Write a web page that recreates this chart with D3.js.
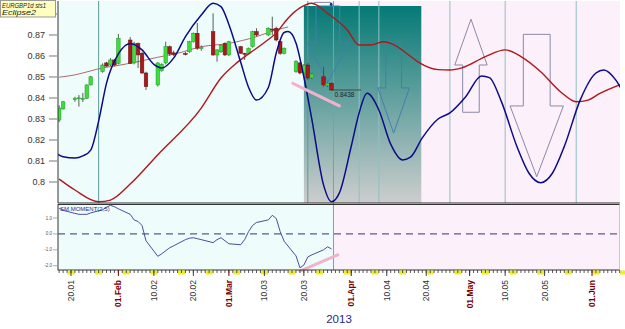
<!DOCTYPE html>
<html>
<head>
<meta charset="utf-8">
<script src="https://cdn.jsdelivr.net/npm/d3@7"></script>
<style>
  body { margin: 0; background: #fff; }
  svg { display: block; font-family: Arial, "Liberation Sans", sans-serif; }
</style>
</head>
<body>
<svg id="chart"></svg>
<script>
// daily candles: date, open, high, low, close
const candles = [
  ["2013-01-17", 0.8295, 0.8365, 0.8285, 0.8352],
  ["2013-01-18", 0.8348, 0.8386, 0.8345, 0.8382],
  ["2013-01-21", 0.8392, 0.8406, 0.8382, 0.8399],
  ["2013-01-22", 0.8398, 0.8414, 0.8359, 0.8401],
  ["2013-01-23", 0.8395, 0.8424, 0.8381, 0.8398],
  ["2013-01-24", 0.8399, 0.8465, 0.8395, 0.8462],
  ["2013-01-25", 0.8462, 0.8505, 0.8460, 0.8501],
  ["2013-01-28", 0.8525, 0.8565, 0.8520, 0.8557],
  ["2013-01-29", 0.8567, 0.8572, 0.8548, 0.8552],
  ["2013-01-30", 0.8557, 0.8590, 0.8552, 0.8581],
  ["2013-01-31", 0.8581, 0.8585, 0.8550, 0.8557],
  ["2013-02-01", 0.8565, 0.8705, 0.8560, 0.8684],
  ["2013-02-04", 0.8676, 0.8690, 0.8562, 0.8565],
  ["2013-02-05", 0.8567, 0.8668, 0.8560, 0.8660],
  ["2013-02-06", 0.8660, 0.8664, 0.8543, 0.8605],
  ["2013-02-07", 0.8613, 0.8620, 0.8515, 0.8519],
  ["2013-02-08", 0.8519, 0.8525, 0.8438, 0.8454],
  ["2013-02-11", 0.8462, 0.8570, 0.8455, 0.8567],
  ["2013-02-12", 0.8530, 0.8565, 0.8525, 0.8560],
  ["2013-02-13", 0.8567, 0.8668, 0.8560, 0.8644],
  ["2013-02-14", 0.8644, 0.8650, 0.8600, 0.8610],
  ["2013-02-15", 0.8615, 0.8625, 0.8600, 0.8608],
  ["2013-02-18", 0.8612, 0.8620, 0.8603, 0.8608],
  ["2013-02-19", 0.8620, 0.8672, 0.8615, 0.8668],
  ["2013-02-20", 0.8668, 0.8712, 0.8664, 0.8708],
  ["2013-02-21", 0.8708, 0.8757, 0.8629, 0.8637],
  ["2013-02-22", 0.8635, 0.8650, 0.8625, 0.8642],
  ["2013-02-25", 0.8716, 0.8803, 0.8600, 0.8605],
  ["2013-02-26", 0.8605, 0.8632, 0.8573, 0.8629],
  ["2013-02-27", 0.8620, 0.8655, 0.8615, 0.8652],
  ["2013-02-28", 0.8660, 0.8665, 0.8600, 0.8605],
  ["2013-03-01", 0.8605, 0.8672, 0.8600, 0.8668],
  ["2013-03-04", 0.8644, 0.8648, 0.8610, 0.8613],
  ["2013-03-05", 0.8613, 0.8615, 0.8581, 0.8608],
  ["2013-03-06", 0.8613, 0.8640, 0.8608, 0.8637],
  ["2013-03-07", 0.8644, 0.8720, 0.8640, 0.8716],
  ["2013-03-08", 0.8716, 0.8732, 0.8692, 0.8700],
  ["2013-03-11", 0.8700, 0.8736, 0.8695, 0.8732],
  ["2013-03-12", 0.8728, 0.8787, 0.8700, 0.8724],
  ["2013-03-13", 0.8732, 0.8740, 0.8670, 0.8676],
  ["2013-03-14", 0.8668, 0.8672, 0.8605, 0.8613],
  ["2013-03-15", 0.8613, 0.8640, 0.8608, 0.8637],
  ["2013-03-18", 0.8525, 0.8580, 0.8520, 0.8573],
  ["2013-03-19", 0.8567, 0.8572, 0.8512, 0.8519],
  ["2013-03-20", 0.8519, 0.8562, 0.8515, 0.8557],
  ["2013-03-21", 0.8557, 0.8567, 0.8486, 0.8495],
  ["2013-03-22", 0.8495, 0.8518, 0.8490, 0.8514],
  ["2013-03-25", 0.8501, 0.8549, 0.8454, 0.8462],
  ["2013-03-26", 0.8458, 0.8474, 0.8452, 0.8470],
  ["2013-03-27", 0.8470, 0.8474, 0.8436, 0.8438]
];

// thin moving average over the candles
const maLine = [
  ["2013-01-17", 0.8499], ["2013-01-21", 0.8510], ["2013-01-25", 0.8529],
  ["2013-01-28", 0.8543], ["2013-01-31", 0.8552], ["2013-02-03", 0.8562],
  ["2013-02-06", 0.8573], ["2013-02-11", 0.8594], ["2013-02-16", 0.8613],
  ["2013-02-22", 0.8644], ["2013-03-01", 0.8660], ["2013-03-08", 0.8692],
  ["2013-03-13", 0.8724], ["2013-03-16", 0.8738]
];

// eclipse projection curves
const blueCurve = [
  ["2013-01-16", 0.8140], ["2013-01-18", 0.8120], ["2013-01-21", 0.8114],
  ["2013-01-23", 0.8124], ["2013-01-25", 0.8152], ["2013-01-27", 0.8290],
  ["2013-01-29", 0.8471], ["2013-02-01", 0.8610], ["2013-02-04", 0.8660],
  ["2013-02-07", 0.8629], ["2013-02-10", 0.8560], ["2013-02-12", 0.8543],
  ["2013-02-15", 0.8590], ["2013-02-18", 0.8692], ["2013-02-22", 0.8795],
  ["2013-02-25", 0.8851], ["2013-02-27", 0.8835], ["2013-03-01", 0.8750],
  ["2013-03-04", 0.8570], ["2013-03-06", 0.8450], ["2013-03-08", 0.8390],
  ["2013-03-11", 0.8450], ["2013-03-13", 0.8614], ["2013-03-15", 0.8712],
  ["2013-03-16", 0.8716], ["2013-03-18", 0.8662], ["2013-03-20", 0.8500],
  ["2013-03-22", 0.8300], ["2013-03-25", 0.7985], ["2013-03-27", 0.7906],
  ["2013-03-29", 0.7948], ["2013-04-01", 0.8170], ["2013-04-03", 0.8329],
  ["2013-04-05", 0.8422], ["2013-04-08", 0.8343], ["2013-04-11", 0.8180],
  ["2013-04-14", 0.8105], ["2013-04-16", 0.8118], ["2013-04-19", 0.8210],
  ["2013-04-23", 0.8300], ["2013-04-26", 0.8329], ["2013-04-30", 0.8406],
  ["2013-05-04", 0.8505], ["2013-05-06", 0.8497], ["2013-05-09", 0.8385],
  ["2013-05-13", 0.8168], ["2013-05-16", 0.8043], ["2013-05-19", 0.7997],
  ["2013-05-22", 0.8043], ["2013-05-25", 0.8170], ["2013-05-29", 0.8390],
  ["2013-06-02", 0.8519], ["2013-06-04", 0.8533], ["2013-06-07", 0.8486],
  ["2013-06-09", 0.8424]
];

const redCurve = [
  ["2013-01-17", 0.8014], ["2013-01-21", 0.7962], ["2013-01-27", 0.7906],
  ["2013-01-30", 0.7914], ["2013-02-04", 0.7990], ["2013-02-11", 0.8130],
  ["2013-02-22", 0.8352], ["2013-02-27", 0.8495], ["2013-03-03", 0.8567],
  ["2013-03-06", 0.8610], ["2013-03-10", 0.8664], ["2013-03-13", 0.8710],
  ["2013-03-16", 0.8780], ["2013-03-19", 0.8829], ["2013-03-22", 0.8851],
  ["2013-03-26", 0.8803], ["2013-03-31", 0.8724], ["2013-04-03", 0.8652],
  ["2013-04-06", 0.8652], ["2013-04-09", 0.8668], ["2013-04-12", 0.8652],
  ["2013-04-15", 0.8613], ["2013-04-18", 0.8571], ["2013-04-23", 0.8535],
  ["2013-04-26", 0.8533], ["2013-04-29", 0.8543], ["2013-05-05", 0.8597],
  ["2013-05-10", 0.8629], ["2013-05-14", 0.8597], ["2013-05-19", 0.8525],
  ["2013-05-24", 0.8430], ["2013-05-28", 0.8382], ["2013-05-31", 0.8390],
  ["2013-06-03", 0.8422], ["2013-06-09", 0.8470]
];

// momentum indicator per trading day
const momentum = [
  ["2013-01-17", 1.61], ["2013-01-18", 1.48], ["2013-01-21", 1.29], ["2013-01-22", 1.23],
  ["2013-01-23", 1.23], ["2013-01-24", 1.23], ["2013-01-25", 1.32], ["2013-01-28", 1.52],
  ["2013-01-29", 1.68], ["2013-01-30", 1.80], ["2013-01-31", 1.71], ["2013-02-01", 1.58],
  ["2013-02-04", 1.23], ["2013-02-05", 0.88], ["2013-02-06", 0.78], ["2013-02-07", 0.53],
  ["2013-02-08", -0.43], ["2013-02-11", -1.41], ["2013-02-12", -1.25], ["2013-02-13", -1.06],
  ["2013-02-14", -0.87], ["2013-02-15", -0.75], ["2013-02-18", -0.36], ["2013-02-19", -0.27],
  ["2013-02-20", -0.24], ["2013-02-21", -0.30], ["2013-02-22", -0.36], ["2013-02-25", -0.55],
  ["2013-02-26", -0.36], ["2013-02-27", -0.24], ["2013-02-28", -0.43], ["2013-03-01", -0.62],
  ["2013-03-04", -0.68], ["2013-03-05", -0.36], ["2013-03-06", 0.15], ["2013-03-07", 0.53],
  ["2013-03-08", 0.72], ["2013-03-11", 0.88], ["2013-03-12", 1.17], ["2013-03-13", 0.97],
  ["2013-03-14", 0.15], ["2013-03-15", -0.46], ["2013-03-18", -1.38], ["2013-03-19", -2.13],
  ["2013-03-20", -1.96], ["2013-03-21", -1.45], ["2013-03-22", -1.32], ["2013-03-25", -1.00],
  ["2013-03-26", -0.81], ["2013-03-27", -0.94]
];

// arrows: centre date, tail value, head base value, tip value, shaft half-width (days), head half-width (days)
const arrows = [
  ["2013-03-26T02:00", 0.8838, 0.8662, 0.8476, 3.0, 5.3],
  ["2013-04-11T18:00", 0.8667, 0.8448, 0.8233, 2.0, 4.0],
  ["2013-05-01T08:00", 0.8332, 0.8557, 0.8775, 2.1, 4.1],
  ["2013-05-18", 0.8703, 0.8362, 0.8025, 3.4, 6.75]
];

const timeLines = ["2013-01-27", "2013-03-21", "2013-04-03", "2013-04-08", "2013-04-26", "2013-05-10", "2013-05-28"];
const splitDate = "2013-03-27T12:00";
const tealZone = ["2013-03-20", "2013-04-18T18:00", 0.8838];
const topBracket = ["2013-03-22T14:00", "2013-03-26T22:00"];
const priceTrend = [["2013-03-17T05:00", 0.8470], ["2013-03-29", 0.8362]];
const momTrend = [["2013-03-19", -2.34], ["2013-03-28T14:00", -1.32]];
const lastPrice = ["2013-03-27", "2013-04-03T12:00", 0.8438];

const priceTicks = [0.80, 0.81, 0.82, 0.83, 0.84, 0.85, 0.86, 0.87, 0.88];
const priceLabels = [0.80, 0.81, 0.82, 0.83, 0.84, 0.85, 0.86, 0.87];
const momTicks = [1, 0, -1, -2];
const dateTicks = ["2013-01-20", "2013-02-01", "2013-02-10", "2013-02-20", "2013-03-01", "2013-03-10", "2013-03-20",
  "2013-04-01", "2013-04-10", "2013-04-20", "2013-05-01", "2013-05-10", "2013-05-20", "2013-06-01"];
const dateLabels = ["20.01", "01.Feb", "10.02", "20.02", "01.Mar", "10.03", "20.03",
  "01.Apr", "10.04", "20.04", "01.May", "10.05", "20.05", "01.Jun"];

const width = 625, height = 329;
const left = 58, right = 620;
const mainTop = 1, mainBottom = 203;
const momTop = 204.5, momBottom = 270;

const dt = s => new Date(s.length > 10 ? s + "Z" : s + "T00:00:00Z");

const svg = d3.select("#chart").attr("width", width).attr("height", height);

const x = d3.scaleUtc()
  .domain([dt("2013-01-20"), dt("2013-06-01")])
  .range([71, 592]);
const y = d3.scaleLinear().domain([0.79, 0.8857]).range([mainBottom, 2]);
const ym = d3.scaleLinear().domain([-2.27, 1.85]).range([momBottom, momTop]);

const defs = svg.append("defs");
defs.append("clipPath").attr("id", "clipMain")
  .append("rect").attr("x", left).attr("y", mainTop).attr("width", right - left).attr("height", mainBottom - mainTop);
defs.append("clipPath").attr("id", "clipMom")
  .append("rect").attr("x", left).attr("y", momTop).attr("width", right - left).attr("height", momBottom - momTop);
const grad = defs.append("linearGradient").attr("id", "tealGrad")
  .attr("x1", 0).attr("y1", 0).attr("x2", 0).attr("y2", 1);
grad.append("stop").attr("offset", "0%").attr("stop-color", "#057a76");
grad.append("stop").attr("offset", "100%").attr("stop-color", "#cdcdcd");

const xSplit = x(dt(splitDate));

// backgrounds
[[mainTop, mainBottom], [momTop, momBottom]].forEach(([t, b]) => {
  svg.append("rect").attr("x", left).attr("y", t).attr("width", xSplit - left).attr("height", b - t).attr("fill", "#eefcfc");
  svg.append("rect").attr("x", xSplit).attr("y", t).attr("width", right - xSplit).attr("height", b - t).attr("fill", "#fcf0fa");
});

// teal zone
svg.append("rect")
  .attr("x", x(dt(tealZone[0])))
  .attr("y", y(tealZone[2]))
  .attr("width", x(dt(tealZone[1])) - x(dt(tealZone[0])))
  .attr("height", mainBottom - y(tealZone[2]))
  .attr("fill", "url(#tealGrad)");

// time lines
svg.append("g").selectAll("line").data(timeLines).join("line")
  .attr("x1", d => x(dt(d))).attr("x2", d => x(dt(d)))
  .attr("y1", mainTop).attr("y2", mainBottom)
  .attr("stroke", d => dt(d) < dt(splitDate) ? "#5d9a9a" : "#8fc0c0")
  .attr("stroke-width", 1);
svg.append("line")
  .attr("x1", xSplit).attr("x2", xSplit).attr("y1", mainTop).attr("y2", momBottom)
  .attr("stroke", "#6aa8a8").attr("stroke-width", 1);

// arrows
const arrowPath = ([c, tail, base, tip, sw, hw]) => {
  const cx = x(dt(c));
  const day = x(dt("2013-01-21")) - x(dt("2013-01-20"));
  const s = sw * day, h = hw * day;
  return `M${cx - s},${y(tail)}L${cx + s},${y(tail)}L${cx + s},${y(base)}L${cx + h},${y(base)}` +
    `L${cx},${y(tip)}L${cx - h},${y(base)}L${cx - s},${y(base)}Z`;
};
svg.append("g").selectAll("path").data(arrows).join("path")
  .attr("d", arrowPath)
  .attr("fill", "none")
  .attr("stroke", d => dt(d[0]) < dt(tealZone[1]) ? "#3f80ad" : "#8a8aa6")
  .attr("stroke-width", 1);

// small bracket at top of the teal zone
svg.append("path")
  .attr("d", `M${x(dt(topBracket[0]))},${y(0.8843)}V${y(0.8855)}H${x(dt(topBracket[1]))}V${y(0.8843)}`)
  .attr("fill", "none").attr("stroke", "#8a8a9a").attr("stroke-width", 1);
svg.append("circle")
  .attr("cx", x(dt(topBracket[1]))).attr("cy", y(0.8845)).attr("r", 1.4).attr("fill", "#1a2a80");

const mainG = svg.append("g").attr("clip-path", "url(#clipMain)");

const line = d3.line()
  .x(d => x(dt(d[0])))
  .y(d => y(d[1]))
  .curve(d3.curveMonotoneX);

mainG.append("path").datum(maLine).attr("d", line)
  .attr("fill", "none").attr("stroke", "#a85a5a").attr("stroke-width", 0.9);

// candles
const candleG = mainG.append("g");
candleG.selectAll("line").data(candles).join("line")
  .attr("x1", d => x(dt(d[0]))).attr("x2", d => x(dt(d[0])))
  .attr("y1", d => y(d[2])).attr("y2", d => y(d[3]))
  .attr("stroke", "#4a4a4a").attr("stroke-width", 0.9);
candleG.selectAll("rect").data(candles).join("rect")
  .attr("x", d => x(dt(d[0])) - 1.8)
  .attr("width", 3.6)
  .attr("y", d => y(Math.max(d[1], d[4])))
  .attr("height", d => Math.max(1, Math.abs(y(d[1]) - y(d[4]))))
  .attr("fill", d => d[4] >= d[1] ? "#3fdc3f" : "#a8191b")
  .attr("stroke", d => d[4] >= d[1] ? "#239a23" : "#6a0f10")
  .attr("stroke-width", 0.5);

mainG.append("path").datum(redCurve).attr("d", line)
  .attr("fill", "none").attr("stroke", "#b0161a").attr("stroke-width", 1.4);
mainG.append("path").datum(blueCurve).attr("d", line)
  .attr("fill", "none").attr("stroke", "#0c0c86").attr("stroke-width", 1.5);

// last price marker
svg.append("line")
  .attr("x1", x(dt(lastPrice[0]))).attr("x2", x(dt(lastPrice[1])))
  .attr("y1", y(lastPrice[2])).attr("y2", y(lastPrice[2]))
  .attr("stroke", "#333").attr("stroke-width", 0.8);
svg.append("text")
  .attr("x", x(dt(lastPrice[0])) + 3).attr("y", y(lastPrice[2]) + 7)
  .attr("font-size", 6.5).attr("fill", "#222")
  .text(lastPrice[2].toFixed(4));

// price trend line
svg.append("line")
  .attr("x1", x(dt(priceTrend[0][0]))).attr("y1", y(priceTrend[0][1]))
  .attr("x2", x(dt(priceTrend[1][0]))).attr("y2", y(priceTrend[1][1]))
  .attr("stroke", "#f2b2cc").attr("stroke-width", 3).attr("stroke-linecap", "round");

// main frame
svg.append("path")
  .attr("d", `M${left},${mainTop}V${mainBottom}H${right}`)
  .attr("fill", "none").attr("stroke", "#333").attr("stroke-width", 1);

// price axis
const pAxis = svg.append("g");
pAxis.selectAll("line").data(priceTicks).join("line")
  .attr("x1", 49).attr("x2", 57).attr("y1", d => y(d)).attr("y2", d => y(d))
  .attr("stroke", "#aaa").attr("stroke-width", 1.6);
pAxis.selectAll("text").data(priceLabels).join("text")
  .attr("x", 45).attr("y", d => y(d)).attr("dy", "0.35em")
  .attr("text-anchor", "end").attr("font-size", 9).attr("fill", "#333")
  .text(d => String(+d.toFixed(2)));

// momentum panel
const momG = svg.append("g").attr("clip-path", "url(#clipMom)");
momG.append("line")
  .attr("x1", left).attr("x2", right).attr("y1", ym(0)).attr("y2", ym(0))
  .attr("stroke", "#34346e").attr("stroke-width", 1).attr("stroke-dasharray", "7,5");
momG.append("path").datum(momentum)
  .attr("d", d3.line().x(d => x(dt(d[0]))).y(d => ym(d[1])))
  .attr("fill", "none").attr("stroke", "#3a3a8c").attr("stroke-width", 0.9);
svg.append("text")
  .attr("x", 60).attr("y", momTop + 6.5)
  .attr("font-size", 6).attr("fill", "#2a2a90")
  .text("SM.MOMENT(2,5)");

svg.append("line")
  .attr("x1", x(dt(momTrend[0][0]))).attr("y1", ym(momTrend[0][1]))
  .attr("x2", x(dt(momTrend[1][0]))).attr("y2", ym(momTrend[1][1]))
  .attr("stroke", "#f2b2cc").attr("stroke-width", 3).attr("stroke-linecap", "round");

svg.append("rect")
  .attr("x", left).attr("y", momTop).attr("width", right - left).attr("height", momBottom - momTop)
  .attr("fill", "none").attr("stroke", "#333").attr("stroke-width", 1);
svg.append("rect")
  .attr("x", right - 0.5).attr("y", momTop - 1).attr("width", 6).attr("height", momBottom - momTop + 2)
  .attr("fill", "#fff");

const mAxis = svg.append("g");
mAxis.selectAll("line").data(momTicks).join("line")
  .attr("x1", 53).attr("x2", 57).attr("y1", d => ym(d)).attr("y2", d => ym(d))
  .attr("stroke", "#aaa").attr("stroke-width", 1);
mAxis.selectAll("text").data(momTicks).join("text")
  .attr("x", 52).attr("y", d => ym(d)).attr("dy", "0.35em")
  .attr("text-anchor", "end").attr("font-size", 4.5).attr("fill", "#555")
  .text(d => d.toFixed(1));

// date axis
const days = d3.utcDay.range(dt("2013-01-16"), dt("2013-06-11"));
const sundays = d3.utcSunday.range(dt("2013-01-16"), dt("2013-06-11"));
const dAxis = svg.append("g");
dAxis.selectAll("rect").data(sundays).join("rect")
  .attr("x", d => x(d) - 3.5).attr("y", momBottom + 0.5).attr("width", 7).attr("height", 4)
  .attr("fill", "#eeee22");
dAxis.selectAll("line.day").data(days.filter(d => x(d) >= left && x(d) <= right)).join("line")
  .attr("class", "day")
  .attr("x1", d => x(d)).attr("x2", d => x(d))
  .attr("y1", momBottom).attr("y2", momBottom + 3)
  .attr("stroke", "#333").attr("stroke-width", 0.8);
const isMonth = s => s.startsWith("01.");
dAxis.selectAll("line.major").data(dateTicks).join("line")
  .attr("class", "major")
  .attr("x1", d => x(dt(d))).attr("x2", d => x(dt(d)))
  .attr("y1", momBottom).attr("y2", momBottom + 6)
  .attr("stroke", (d, i) => isMonth(dateLabels[i]) ? "#800000" : "#444").attr("stroke-width", 1);
dAxis.selectAll("text").data(dateTicks).join("text")
  .attr("transform", d => `translate(${x(dt(d))},${momBottom + 10}) rotate(-90)`)
  .attr("dy", "0.35em")
  .attr("text-anchor", "end")
  .attr("font-size", 8.5)
  .attr("font-weight", (d, i) => isMonth(dateLabels[i]) ? "bold" : "normal")
  .attr("fill", (d, i) => isMonth(dateLabels[i]) ? "#7a0000" : "#333")
  .text((d, i) => dateLabels[i]);

svg.append("text")
  .attr("x", 339).attr("y", 323)
  .attr("text-anchor", "middle").attr("font-size", 11.5).attr("fill", "#1c2a86")
  .text("2013");

// legend box
svg.append("rect")
  .attr("x", 0.5).attr("y", 0.5).attr("width", 55).attr("height", 16.5)
  .attr("fill", "#ffffc0").attr("stroke", "#999").attr("stroke-width", 1);
svg.append("text")
  .attr("x", 2).attr("y", 7.5).attr("font-size", 7.5).attr("font-style", "italic").attr("fill", "#222")
  .attr("textLength", 44).attr("lengthAdjust", "spacingAndGlyphs")
  .text("EURGBP1d sts1");
svg.append("text")
  .attr("x", 2).attr("y", 15).attr("font-size", 7.5).attr("font-style", "italic").attr("fill", "#222")
  .attr("textLength", 34).attr("lengthAdjust", "spacingAndGlyphs")
  .text("Eclipse2");
</script>
</body>
</html>
